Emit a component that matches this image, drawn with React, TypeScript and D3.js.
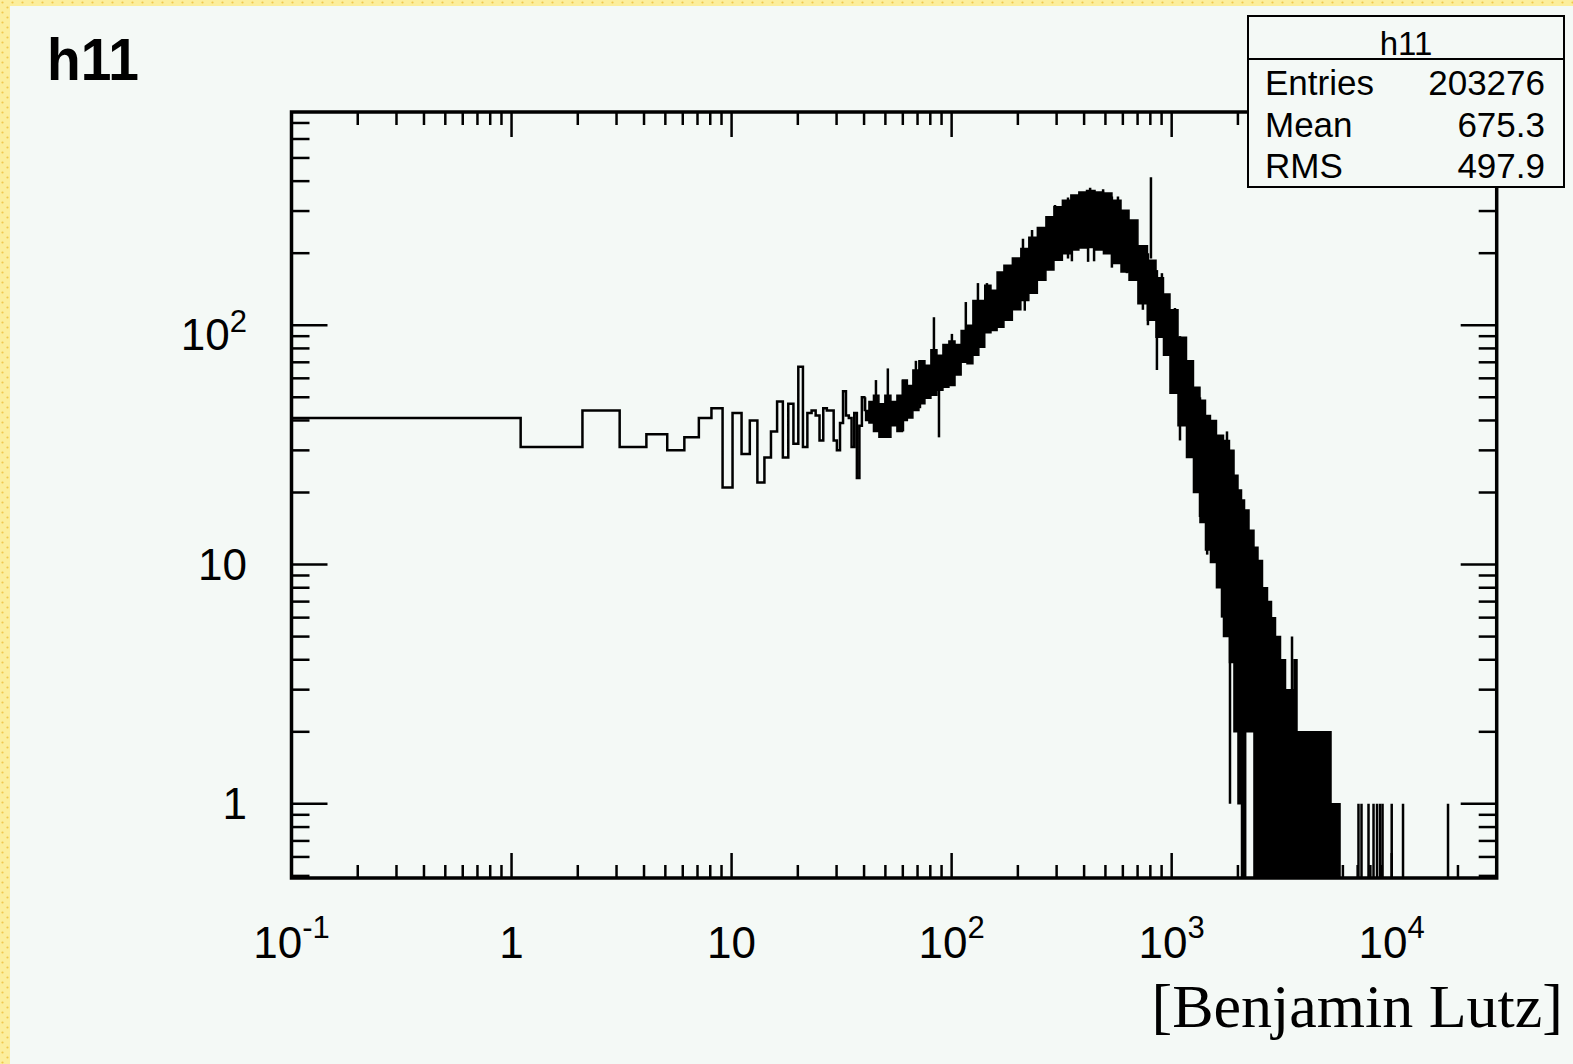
import * as d3 from "d3";

// bins of width 1 starting at 0.1 (edges 0.1, 1.1, 2.1, ...)
const lowBinStart = 0.1;
const lowBinCounts = [
	41, 31, 44, 31, 35, 30, 34, 41, 45, 21, 43, 29, 40, 22, 28, 36, 48, 28, 47,
	32, 67, 31, 43, 44, 42, 33, 45, 44, 44, 33, 30, 39, 53, 42, 41, 31, 43, 23,
	38, 50,
];

// dense part: bins narrower than a pixel, read as an upper / lower envelope
const envX = [
	40.1, 41.2, 43.0, 45.3, 48.2, 51.3, 54.7, 58.2, 61.3, 64.6, 68.8, 73.3, 78.0,
	83.1, 88.5, 94.2, 100.3, 107, 114, 121, 129, 137, 146, 156, 166, 180, 198,
	215, 234, 257, 280, 304, 334, 363, 395, 426, 472, 508, 564, 614, 667, 740,
	814, 885, 952, 1014, 1126, 1211, 1303, 1388, 1462, 1540, 1658, 1784, 1879,
	1960, 2044, 2110, 2177, 2317, 2416, 2520, 2655, 2798, 2887, 3043, 3206, 3379,
	3523, 3673, 3750, 4253, 4722, 5243, 5354, 5822,
];
const envHi = [
	49.6, 44, 48, 51, 47, 51, 48, 51, 59, 56, 65, 71, 68, 79, 75, 83, 86, 83, 95,
	100, 127, 127, 147, 140, 167, 178, 191, 209, 233, 256, 284, 313, 333, 350,
	360, 366, 360, 357, 333, 302, 275, 215, 187, 158, 135, 116, 89, 71, 55, 48.6,
	42, 40, 34.7, 33, 30, 23.6, 20.5, 18.6, 16.9, 13.9, 11.8, 10.4, 8, 7, 6, 5,
	4, 3, 3, 4, 2, 2, 2, 2, 1, 1,
];
const envLo = [
	44, 40, 39, 36, 34, 34, 38, 36, 40, 41, 44, 47, 49.5, 51, 53.5, 55, 56, 62,
	70, 69, 75, 81, 93, 95, 98, 105, 116, 127, 136, 154, 170, 187, 199, 206, 210,
	211, 206, 199, 181, 167, 154, 123, 105, 89, 75, 52, 38, 28, 20, 15, 11.5,
	10.2, 8, 5, 3.9, 2, 1, 0, 2, 2, 0, 0, 0, 0, 0, 0, 0, 0, 0, 0, 0, 0, 0, 0, 0,
	0,
];

// single bins standing out of the band, and the lone entries in the tail
const spikeX = [
	45.3, 51.3, 60.1, 68.8, 71.8, 83.1, 87.6, 100.3, 116, 131.7, 144.7, 211, 215,
	232, 274, 295, 338, 352, 417, 426, 444, 488, 535, 570, 626, 740, 780, 805,
	857, 903, 1035, 1091, 1345, 1450, 1693, 1784, 1841, 1899, 2158, 2442, 3206,
	3523, 5470, 5750, 7063, 7290, 7845, 8267, 8576, 8850, 9085, 10000, 11256,
	18026,
];
const spikeHi = [
	59, 66, 59, 71, 71, 108, 72, 92, 125, 150, 150, 230, 200, 250, 282, 318, 342,
	330, 360, 375, 350, 370, 345, 345, 300, 215, 200, 415, 170, 165, 118, 90, 50,
	40, 33, 36, 25, 30, 10, 10, 4, 5, 1, 1, 1, 1, 1, 1, 1, 1, 1, 1, 1, 1,
];
const spikeLo = [
	40, 38, 36, 44, 45, 55, 34, 60, 70, 85, 95, 130, 115, 140, 170, 190, 190, 185,
	184, 215, 185, 210, 174, 190, 165, 116, 100, 190, 65, 90, 60, 33, 15.8, 11, 6,
	8, 1, 4, 0, 0, 0, 0, 0, 0, 0, 0, 0, 0, 0, 0, 0, 0, 0, 0,
];

const xMajorTicks = [0.1, 1, 10, 100, 1000, 10000];
const xLabelBase = ["10", "1", "10", "10", "10", "10"];
const xLabelExp = ["-1", "", "", "2", "3", "4"];
const yMajorTicks = [1, 10, 100];
const yLabelBase = ["1", "10", "10"];
const yLabelExp = ["", "", "2"];

const statNames = ["Entries", "Mean", "RMS"];
const statValues = ["203276", "675.3", "497.9"];

const W = 1573;
const H = 1064;
const plot = { left: 291.5, right: 1496.7, top: 112, bottom: 878 };
const bg = "#f4f9f6";
const sans = "'Liberation Sans', Arial, Helvetica, sans-serif";

function minorTicks(lo: number, hi: number): number[] {
	const out: number[] = [];
	for (let e = Math.floor(Math.log10(lo)); e <= Math.ceil(Math.log10(hi)); e++) {
		for (let m = 2; m <= 9; m++) {
			const v = m * Math.pow(10, e);
			if (v >= lo && v <= hi) out.push(v);
		}
	}
	return out;
}

export default function App() {
	const x = d3.scaleLog().domain([0.1, 30000]).range([plot.left, plot.right]);
	const y = d3.scaleLog().domain([0.49, 778]).range([plot.bottom, plot.top]);
	const yc = (c: number) => (c > 0 ? y(c) : plot.bottom + 6);

	// step line for the wide bins
	const stepPts: [number, number][] = lowBinCounts.map((c, i) => [
		lowBinStart + i,
		c,
	]);
	stepPts.push([lowBinStart + lowBinCounts.length, envHi[0]]);
	const stepPath =
		d3
			.line<[number, number]>()
			.x((d) => x(d[0]))
			.y((d) => yc(d[1]))
			.curve(d3.curveStepAfter)(stepPts) ?? "";

	const band = envX.map((v, i) => ({ x: v, hi: envHi[i], lo: envLo[i] }));
	const bandPath =
		d3
			.area<{ x: number; hi: number; lo: number }>()
			.x((d) => x(d.x))
			.y0((d) => yc(d.lo))
			.y1((d) => yc(d.hi))
			.curve(d3.curveStep)(band) ?? "";

	const xMinor = minorTicks(0.1, 30000);
	const yMinor = minorTicks(0.49, 778);

	const box = { x: 1248, y: 16, w: 316, h: 171, sep: 59 };

	return (
		<svg
			width={W}
			height={H}
			style={{ position: "absolute", left: 0, top: 0 }}
			fontFamily={sans}
		>
			<defs>
				<pattern id="dots" width={10} height={10} patternUnits="userSpaceOnUse">
					<rect width={10} height={10} fill="#fcee9c" />
					<circle cx={2.5} cy={2.5} r={1.1} fill="#efc84e" />
					<circle cx={7.5} cy={7.5} r={1.1} fill="#efc84e" />
				</pattern>
				<clipPath id="frame">
					<rect
						x={plot.left}
						y={plot.top}
						width={plot.right - plot.left}
						height={plot.bottom - plot.top}
					/>
				</clipPath>
			</defs>
			<rect width={W} height={H} fill={bg} />
			<rect width={W} height={6} fill="url(#dots)" />
			<rect width={10} height={H} fill="url(#dots)" />

			<text x={47} y={80} fontSize={60} fontWeight="bold" textLength={92} lengthAdjust="spacingAndGlyphs">
				h11
			</text>

			<g clipPath="url(#frame)">
				<path d={bandPath} fill="#000" stroke="#000" strokeWidth={1.5} />
				<path d={stepPath} fill="none" stroke="#000" strokeWidth={2.5} />
				{spikeX.map((v, i) => (
					<line
						key={i}
						x1={x(v)}
						x2={x(v)}
						y1={yc(spikeHi[i])}
						y2={yc(spikeLo[i])}
						stroke="#000"
						strokeWidth={2.5}
					/>
				))}
			</g>

			{/* ticks on all four sides, ROOT style (inside) */}
			<g stroke="#000" strokeWidth={2.5}>
				{xMajorTicks.map((v) => (
					<g key={`xM${v}`}>
						<line x1={x(v)} x2={x(v)} y1={plot.bottom} y2={plot.bottom - 25} />
						<line x1={x(v)} x2={x(v)} y1={plot.top} y2={plot.top + 25} />
					</g>
				))}
				{xMinor.map((v) => (
					<g key={`xm${v}`}>
						<line x1={x(v)} x2={x(v)} y1={plot.bottom} y2={plot.bottom - 13} />
						<line x1={x(v)} x2={x(v)} y1={plot.top} y2={plot.top + 13} />
					</g>
				))}
				{yMajorTicks.map((v) => (
					<g key={`yM${v}`}>
						<line x1={plot.left} x2={plot.left + 36} y1={y(v)} y2={y(v)} />
						<line x1={plot.right} x2={plot.right - 36} y1={y(v)} y2={y(v)} />
					</g>
				))}
				{yMinor.map((v) => (
					<g key={`ym${v}`}>
						<line x1={plot.left} x2={plot.left + 18} y1={y(v)} y2={y(v)} />
						<line x1={plot.right} x2={plot.right - 18} y1={y(v)} y2={y(v)} />
					</g>
				))}
			</g>
			<rect
				x={plot.left}
				y={plot.top}
				width={plot.right - plot.left}
				height={plot.bottom - plot.top}
				fill="none"
				stroke="#000"
				strokeWidth={3.5}
			/>

			{xMajorTicks.map((v, i) => (
				<text key={`xl${v}`} x={x(v)} y={958} fontSize={44} textAnchor="middle">
					<tspan>{xLabelBase[i]}</tspan>
					{xLabelExp[i] && (
						<tspan dy={-20} fontSize={31}>
							{xLabelExp[i]}
						</tspan>
					)}
				</text>
			))}
			{yMajorTicks.map((v, i) => (
				<text
					key={`yl${v}`}
					x={247}
					y={y(v) + (yLabelExp[i] ? 25 : 15)}
					fontSize={44}
					textAnchor="end"
				>
					<tspan>{yLabelBase[i]}</tspan>
					{yLabelExp[i] && (
						<tspan dy={-18} fontSize={31}>
							{yLabelExp[i]}
						</tspan>
					)}
				</text>
			))}

			{/* statistics box */}
			<rect x={box.x} y={box.y} width={box.w} height={box.h} fill={bg} stroke="#000" strokeWidth={2} />
			<line x1={box.x} x2={box.x + box.w} y1={box.sep} y2={box.sep} stroke="#000" strokeWidth={2} />
			<text x={box.x + box.w / 2} y={55} fontSize={33} textAnchor="middle">
				h11
			</text>
			{statNames.map((n, i) => (
				<g key={n}>
					<text x={1265} y={95 + i * 41.5} fontSize={35}>
						{n}
					</text>
					<text x={1545} y={95 + i * 41.5} fontSize={35} textAnchor="end">
						{statValues[i]}
					</text>
				</g>
			))}

			<text
				x={1563}
				y={1027}
				fontSize={62}
				textAnchor="end"
				fontFamily="'Liberation Serif', 'Times New Roman', serif"
			>
				[Benjamin Lutz]
			</text>
		</svg>
	);
}
